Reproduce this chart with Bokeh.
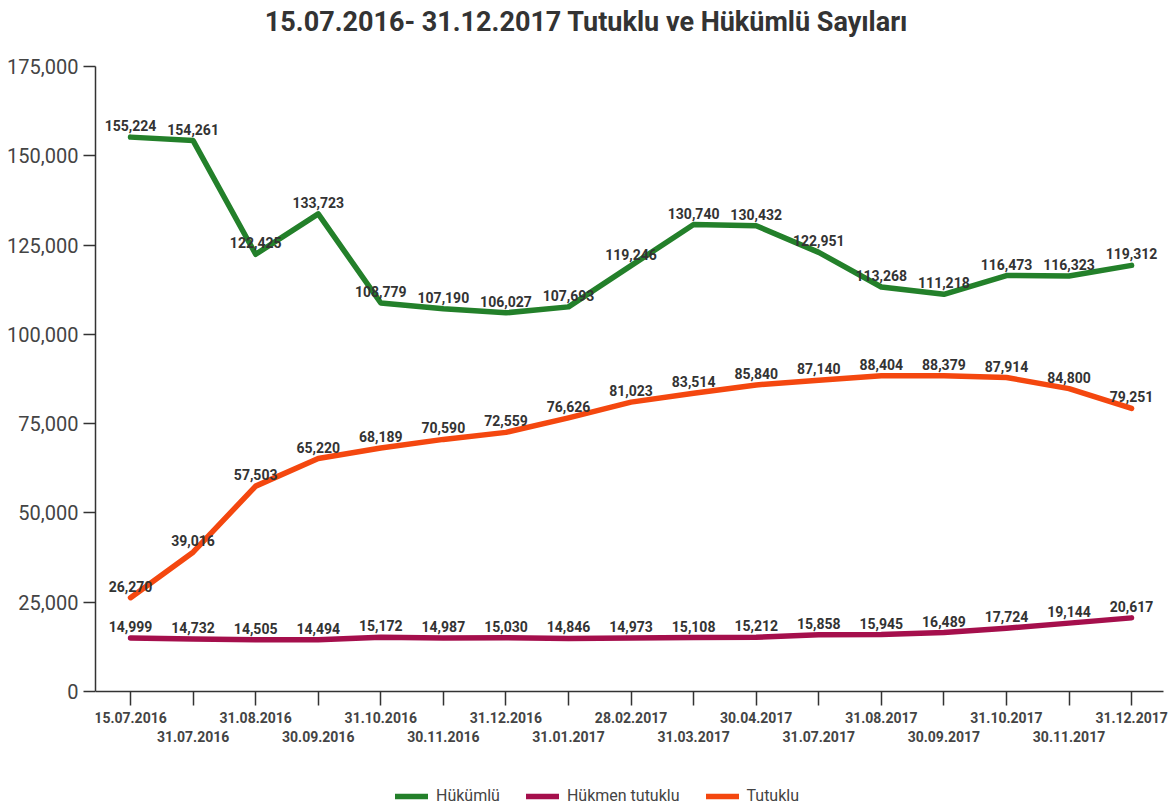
from bokeh.plotting import figure
from bokeh.models import (Range1d, LinearAxis, FixedTicker, NumeralTickFormatter,
                          Legend, LegendItem, ColumnDataSource, Label)
from bokeh.core.properties import value
from bokeh.embed import file_html
from bokeh.resources import INLINE

dates = ["15.07.2016", "31.07.2016", "31.08.2016", "30.09.2016", "31.10.2016",
         "30.11.2016", "31.12.2016", "31.01.2017", "28.02.2017", "31.03.2017",
         "30.04.2017", "31.07.2017", "31.08.2017", "30.09.2017", "31.10.2017",
         "30.11.2017", "31.12.2017"]
hukumlu = [155224, 154261, 122425, 133723, 108779, 107190, 106027, 107693, 119246,
           130740, 130432, 122951, 113268, 111218, 116473, 116323, 119312]
hukmen = [14999, 14732, 14505, 14494, 15172, 14987, 15030, 14846, 14973,
          15108, 15212, 15858, 15945, 16489, 17724, 19144, 20617]
tutuklu = [26270, 39016, 57503, 65220, 68189, 70590, 72559, 76626, 81023,
           83514, 85840, 87140, 88404, 88379, 87914, 84800, 79251]
y_ticks = [0, 25000, 50000, 75000, 100000, 125000, 150000, 175000]
title_text = "15.07.2016- 31.12.2017 Tutuklu ve Hükümlü Sayıları"

FONT = "Roboto"
idx = list(range(len(dates)))

# frame covers the whole picture height; the value axis only spans 0..175,000
p = figure(frame_width=1076, frame_height=806, output_backend="svg", toolbar_location=None,
           x_range=Range1d(-0.56, len(dates) - 1 + 0.638), y_range=Range1d(-32200, 193480),
           x_axis_type=None, min_border_left=95, min_border_right=0,
           min_border_top=0, min_border_bottom=0)
p.title = None
p.outline_line_color = None
p.xgrid.grid_line_color = None
p.ygrid.grid_line_color = None

p.add_layout(Label(x=491, y=785, x_units="screen", y_units="screen", text=title_text,
                   text_align="center", text_baseline="middle", text_font=FONT,
                   text_font_size="27px", text_font_style="bold", text_color="#333333"))

ya = p.yaxis[0]
ya.bounds = (0, 175000)
ya.ticker = FixedTicker(ticks=y_ticks)
ya.formatter = NumeralTickFormatter(format="0,0")
ya.major_label_text_font = FONT
ya.major_label_text_font_size = "20px"
ya.major_label_text_color = "#444444"
ya.axis_line_color = "#333333"
ya.axis_line_width = 1.5
ya.major_tick_line_color = "#333333"
ya.major_tick_line_width = 1.5
ya.major_tick_out = 12
ya.major_tick_in = 0
ya.minor_tick_line_color = None
ya.major_label_standoff = 5

# first row of x labels (even indices) with tick marks, drawn at y = 0
ax1 = LinearAxis(ticker=FixedTicker(ticks=idx), fixed_location=0,
                 bounds=(-0.56, len(dates) - 1 + 0.51),
                 major_label_overrides={i: (dates[i] if i % 2 == 0 else " ") for i in idx})
ax1.major_label_text_font = FONT
ax1.major_label_text_font_size = "14px"
ax1.major_label_text_font_style = "bold"
ax1.major_label_text_color = "#444444"
ax1.axis_line_color = "#333333"
ax1.axis_line_width = 1.5
ax1.major_tick_line_color = "#333333"
ax1.major_tick_line_width = 1.5
ax1.major_tick_out = 14
ax1.major_tick_in = 0
ax1.minor_tick_line_color = None
ax1.major_label_standoff = 4
p.add_layout(ax1, "below")

# second row of x labels (odd indices)
ax2 = LinearAxis(ticker=FixedTicker(ticks=idx), fixed_location=0,
                 major_label_overrides={i: (dates[i] if i % 2 == 1 else " ") for i in idx})
ax2.major_label_text_font = FONT
ax2.major_label_text_font_size = "14px"
ax2.major_label_text_font_style = "bold"
ax2.major_label_text_color = "#444444"
ax2.axis_line_color = None
ax2.major_tick_line_color = None
ax2.minor_tick_line_color = None
ax2.major_tick_out = 0
ax2.major_tick_in = 0
ax2.major_label_standoff = 37
p.add_layout(ax2, "below")

series = [("Hükümlü", hukumlu, "#23802a"),
          ("Hükmen tutuklu", hukmen, "#a50f4c"),
          ("Tutuklu", tutuklu, "#f4470f")]
items = []
for name, vals, col in series:
    src = ColumnDataSource(dict(x=idx, y=vals, lab=[f"{v:,}" for v in vals]))
    r = p.line("x", "y", source=src, line_color=col, line_width=5.5, line_cap="round",
               line_join="round")
    items.append(LegendItem(label=name, renderers=[r]))
    p.text("x", "y", text="lab", source=src, text_align="center", text_baseline="bottom",
           y_offset=-6, text_font=value(FONT), text_font_size="14px",
           text_font_style="bold", text_color="#333333")

legend = Legend(items=items, orientation="horizontal", location=(300, 1),
                label_text_font=FONT, label_text_font_size="16px",
                label_text_color="#444444", glyph_width=33, glyph_height=14,
                label_height=16, label_standoff=8, spacing=26, border_line_color=None,
                background_fill_alpha=0, margin=0, padding=0)
p.add_layout(legend, "center")

open("out.html", "w").write(file_html(p, INLINE))
